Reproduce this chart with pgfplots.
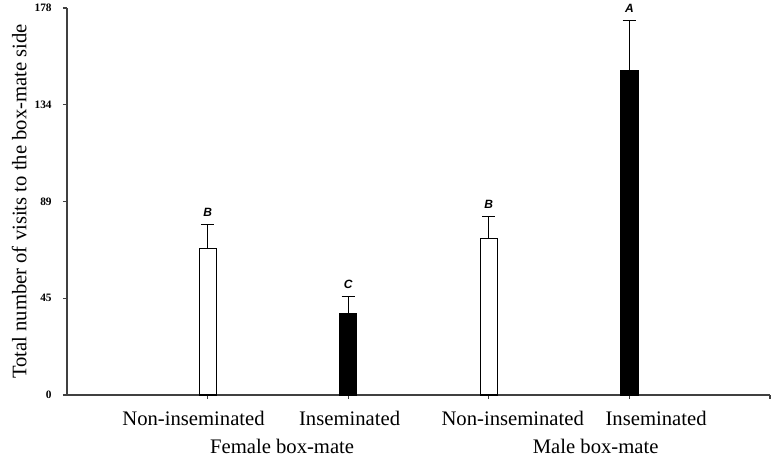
\documentclass[border=0pt]{standalone}
\usepackage{pgfplots}
\pgfplotsset{compat=1.18}
\usepackage{fontspec}
\setmainfont{Liberation Serif}
\newfontfamily\arialfont{Liberation Sans}

% group 1: white bars, group 2: black bars; err = upper SEM
\pgfplotstableread{
x  y     err
1  67.2  11.1
3  71.9  10.1
}\whitebars
\pgfplotstableread{
x  y     err
2  37.3  8.0
4  149.1 23.0
}\blackbars
\pgfplotstableread{
x  top    label
1  78.3   B
2  45.3   C
3  82.0   B
4  172.1  A
}\letters

\begin{document}
\begin{tikzpicture}
\begin{axis}[
    scale only axis,
    width=527.25pt,
    height=290.25pt,
    xmin=0, xmax=5,
    ymin=0, ymax=178,
    axis x line=bottom,
    axis y line=left,
    axis line style={-, line width=1pt, black!75},
    tick style={line width=0.8pt, black!75},
    tick align=outside,
    major tick length=3pt,
    xtick={1,2,3,4,5},
    xticklabels={},
    ytick={0,44.5,89,133.5,178},
    yticklabels={0,45,89,134,178},
    y tick label style={font=\fontsize{8.5}{9}\selectfont\bfseries, xshift=-5pt},
    /pgf/number format/assume math mode=true,
    ylabel={Total number of visits to the box-mate side},
    ylabel style={font=\fontsize{15.5}{18}\selectfont, at={(axis description cs:-0.068,0.5)}, anchor=center},
    ybar, bar width=12.75pt, bar shift=0pt,
    clip=false,
]
\addplot[draw=black, fill=white, line width=0.9pt,
    error bars/.cd, y dir=plus, y explicit,
    error bar style={line width=0.8pt, black},
    error mark options={rotate=90, mark size=5pt, line width=0.8pt, black}]
    table[x=x, y=y, y error=err] {\whitebars};
\addplot[draw=black, fill=black, line width=0.9pt,
    error bars/.cd, y dir=plus, y explicit,
    error bar style={line width=0.8pt, black},
    error mark options={rotate=90, mark size=5pt, line width=0.8pt, black}]
    table[x=x, y=y, y error=err] {\blackbars};
\addplot[draw=none, fill=none, forget plot, bar width=0pt,
    nodes near coords, point meta=explicit symbolic,
    every node near coord/.append style={font=\arialfont\fontsize{9}{10}\selectfont\bfseries\itshape, anchor=south, yshift=2.5pt}]
    table[x=x, y=top, meta=label] {\letters};
% category labels, as placed in the original (not centred on the ticks)
\begin{scope}[every node/.style={font=\fontsize{15.5}{17}\selectfont}]
\node at (axis cs:0.90,0) [yshift=-17.5pt] {Non-inseminated};
\node at (axis cs:2.01,0) [yshift=-17.5pt] {Inseminated};
\node at (axis cs:3.17,0) [yshift=-17.5pt] {Non-inseminated};
\node at (axis cs:4.19,0) [yshift=-17.5pt] {Inseminated};
\node at (axis cs:1.53,0) [yshift=-38.5pt] {Female box-mate};
\node at (axis cs:3.76,0) [yshift=-38.5pt] {Male box-mate};
\end{scope}
\coordinate (ll) at (rel axis cs:0,0);
\coordinate (ur) at (rel axis cs:1,1);
\end{axis}
\pgfresetboundingbox
\path[use as bounding box] ([shift={(-50.25pt,-50.25pt)}]ll) rectangle ([shift={(5.25pt,6pt)}]ur);
\end{tikzpicture}
\end{document}
